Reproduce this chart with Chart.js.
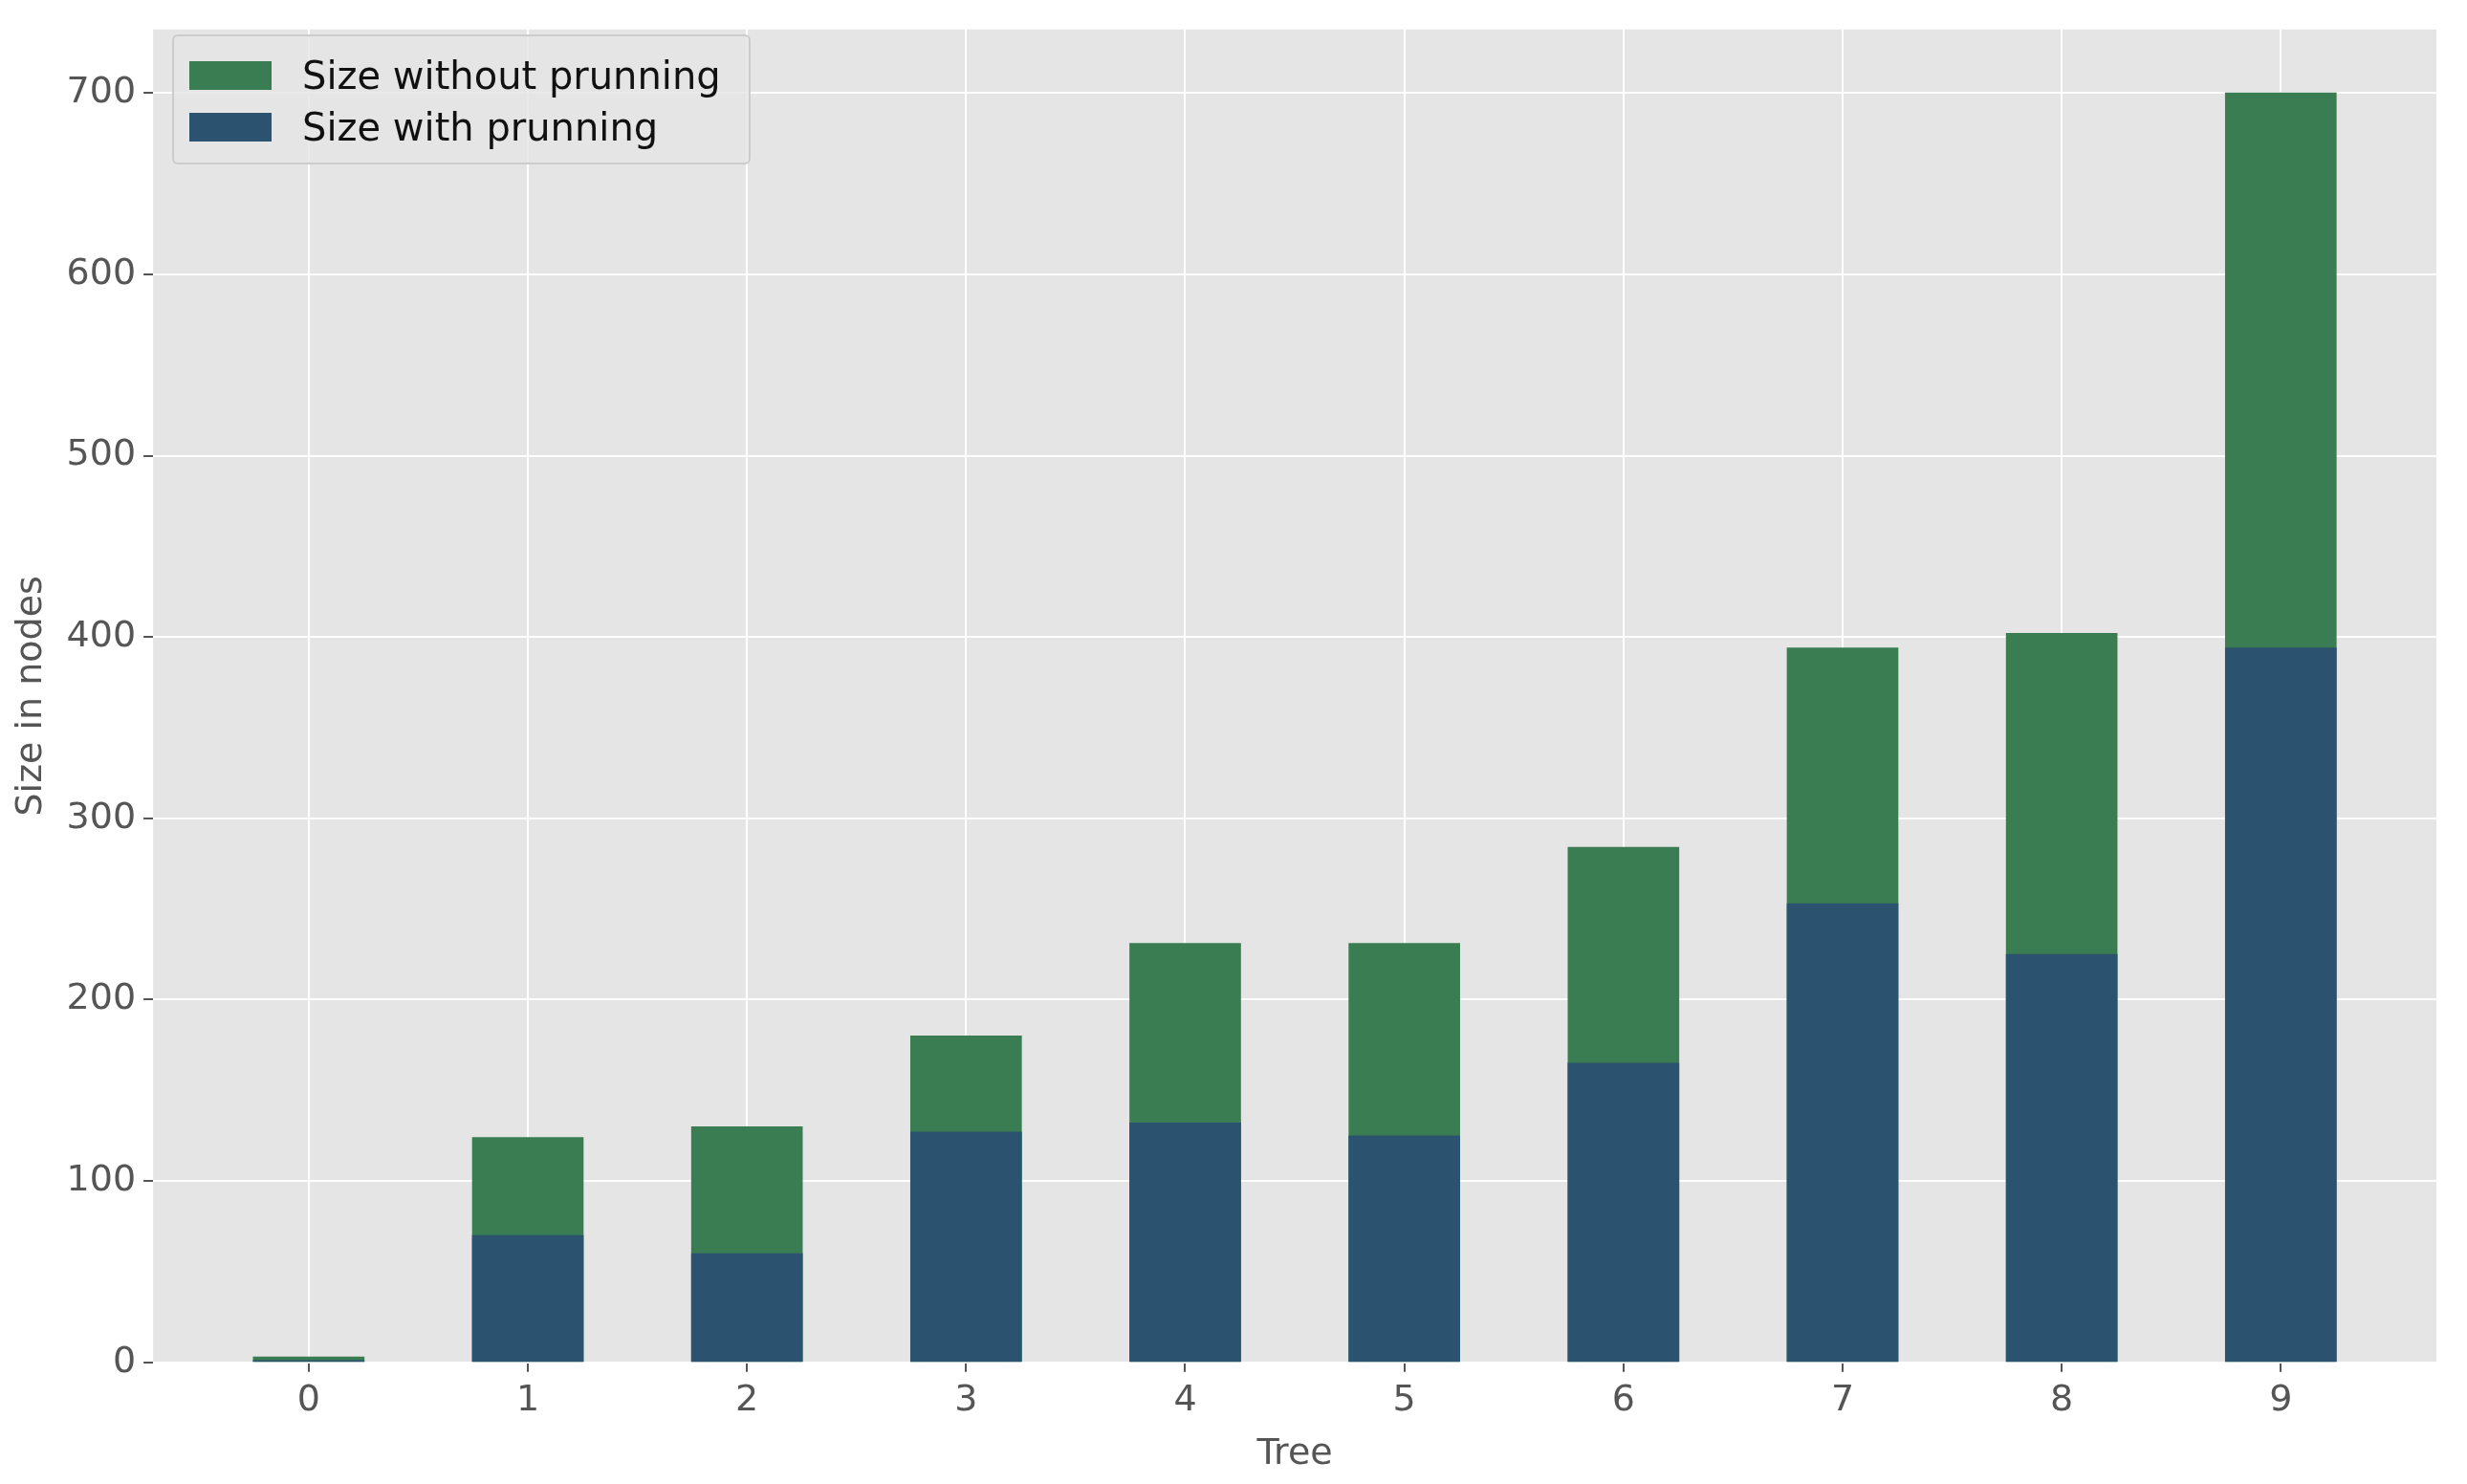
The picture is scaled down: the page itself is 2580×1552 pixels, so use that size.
<!DOCTYPE html>
<html><head><meta charset="utf-8">
<script src="https://cdn.jsdelivr.net/npm/chart.js@4"></script>
<style>
body{margin:0;background:#fff;font-family:"DejaVu Sans",sans-serif}
#wrap{position:relative;width:2580px;height:1552px}
#legend{position:absolute;left:180px;top:36px;width:605px;height:136px;background:rgba(229,229,229,0.8);border:2px solid #ccc;border-radius:6px;box-sizing:border-box;padding:14px 16px;font-size:40px;color:#111}
.row{display:flex;align-items:center;height:54px}
.sw{width:86px;height:30px;margin-right:32px}
</style></head>
<body><div id="wrap"><canvas id="c" width="2580" height="1552"></canvas>
<div id="legend">
<div class="row"><div class="sw" style="background:#3b7d53"></div>Size without prunning</div>
<div class="row"><div class="sw" style="background:#2b526e"></div>Size with prunning</div>
</div></div>
<script>
const trees = [0, 1, 2, 3, 4, 5, 6, 7, 8, 9];
const withoutPruning = [3, 124, 130, 180, 231, 231, 284, 394, 402, 700];
const withPruning = [1, 70, 60, 127, 132, 125, 165, 253, 225, 394];

const bg = {
  id: 'bg',
  beforeDraw(chart) {
    const a = chart.chartArea, ctx = chart.ctx;
    ctx.save();
    ctx.fillStyle = '#e5e5e5';
    ctx.fillRect(a.left, a.top, a.right - a.left, a.bottom - a.top);
    ctx.restore();
  }
};

const tickFont = {family: 'DejaVu Sans', size: 38};

new Chart(document.getElementById('c'), {
  type: 'bar',
  data: {
    datasets: [
      {label: 'Size with prunning', data: trees.map((t, i) => ({x: t, y: withPruning[i]})),
       backgroundColor: '#2b526e', grouped: false, order: 0, barThickness: 116},
      {label: 'Size without prunning', data: trees.map((t, i) => ({x: t, y: withoutPruning[i]})),
       backgroundColor: '#3b7d53', grouped: false, order: 1, barThickness: 116}
    ]
  },
  plugins: [bg],
  options: {
    responsive: false,
    animation: false,
    layout: {padding: {top: 12, right: 32, left: 4, bottom: 6}},
    plugins: {legend: {display: false}, tooltip: {enabled: false}},
    scales: {
      x: {
        type: 'linear', min: -0.71, max: 9.71, offset: false,
        afterBuildTicks: ax => { ax.ticks = trees.map(v => ({value: v})); },
        ticks: {font: tickFont, color: '#555', padding: 8},
        grid: {color: '#fff', lineWidth: 2, tickLength: 10, tickColor: '#555', offset: false},
        border: {display: false},
        title: {display: true, text: 'Tree', font: tickFont, color: '#555', padding: 2}
      },
      y: {
        min: 0, max: 735,
        afterBuildTicks: ax => { ax.ticks = ax.ticks.filter(t => t.value % 100 === 0); },
        ticks: {stepSize: 100, font: tickFont, color: '#555', padding: 8},
        grid: {color: '#fff', lineWidth: 2, tickLength: 10, tickColor: '#555'},
        border: {display: false},
        title: {display: true, text: 'Size in nodes', font: tickFont, color: '#555', padding: 6}
      }
    }
  }
});
</script></body></html>
